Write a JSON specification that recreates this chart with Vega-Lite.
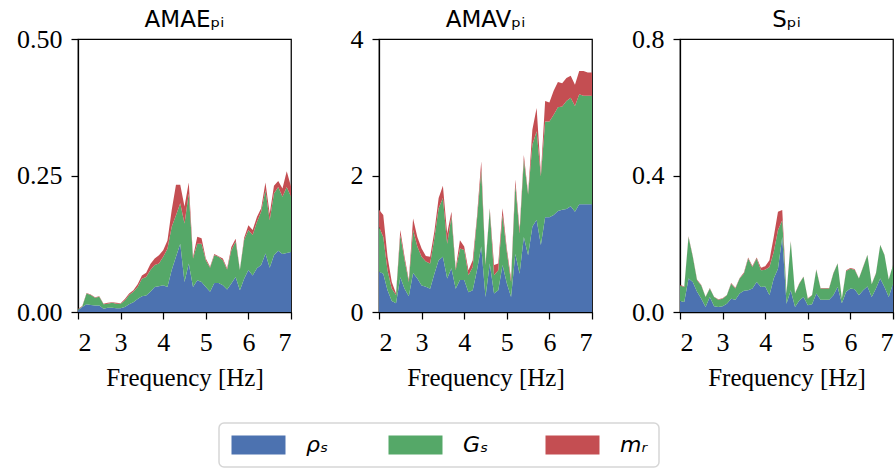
{
  "$schema": "https://vega.github.io/schema/vega-lite/v6.json",
  "padding": {"left": 15, "top": 8, "right": 0, "bottom": 0},
  "background": "white",
  "datasets": {
    "d": [
      {"p":1,"f":2.0,"a":0.003,"b":0.002,"c":0.001},
      {"p":1,"f":2.1,"a":0.009,"b":0.001,"c":0.001},
      {"p":1,"f":2.2,"a":0.014,"b":0.020,"c":0.001},
      {"p":1,"f":2.3,"a":0.013,"b":0.018,"c":0.001},
      {"p":1,"f":2.4,"a":0.012,"b":0.014,"c":0.001},
      {"p":1,"f":2.5,"a":0.012,"b":0.016,"c":0.001},
      {"p":1,"f":2.6,"a":0.006,"b":0.008,"c":0.001},
      {"p":1,"f":2.7,"a":0.008,"b":0.007,"c":0.002},
      {"p":1,"f":2.8,"a":0.008,"b":0.009,"c":0.001},
      {"p":1,"f":2.9,"a":0.007,"b":0.008,"c":0.002},
      {"p":1,"f":3.0,"a":0.007,"b":0.008,"c":0.001},
      {"p":1,"f":3.1,"a":0.009,"b":0.012,"c":0.003},
      {"p":1,"f":3.2,"a":0.014,"b":0.017,"c":0.003},
      {"p":1,"f":3.3,"a":0.018,"b":0.019,"c":0.003},
      {"p":1,"f":3.4,"a":0.024,"b":0.022,"c":0.005},
      {"p":1,"f":3.5,"a":0.029,"b":0.032,"c":0.006},
      {"p":1,"f":3.6,"a":0.030,"b":0.034,"c":0.008},
      {"p":1,"f":3.7,"a":0.037,"b":0.040,"c":0.011},
      {"p":1,"f":3.8,"a":0.046,"b":0.040,"c":0.012},
      {"p":1,"f":3.9,"a":0.047,"b":0.042,"c":0.015},
      {"p":1,"f":4.0,"a":0.049,"b":0.052,"c":0.012},
      {"p":1,"f":4.1,"a":0.046,"b":0.070,"c":0.015},
      {"p":1,"f":4.2,"a":0.077,"b":0.079,"c":0.031},
      {"p":1,"f":4.3,"a":0.101,"b":0.076,"c":0.056},
      {"p":1,"f":4.4,"a":0.125,"b":0.074,"c":0.034},
      {"p":1,"f":4.5,"a":0.055,"b":0.107,"c":0.031},
      {"p":1,"f":4.6,"a":0.089,"b":0.128,"c":0.020},
      {"p":1,"f":4.7,"a":0.046,"b":0.052,"c":0.003},
      {"p":1,"f":4.8,"a":0.058,"b":0.067,"c":0.013},
      {"p":1,"f":4.9,"a":0.055,"b":0.070,"c":0.010},
      {"p":1,"f":5.0,"a":0.046,"b":0.049,"c":0.003},
      {"p":1,"f":5.1,"a":0.037,"b":0.044,"c":0.002},
      {"p":1,"f":5.2,"a":0.053,"b":0.051,"c":0.002},
      {"p":1,"f":5.3,"a":0.053,"b":0.048,"c":0.001},
      {"p":1,"f":5.4,"a":0.049,"b":0.046,"c":0.003},
      {"p":1,"f":5.5,"a":0.041,"b":0.037,"c":0.002},
      {"p":1,"f":5.6,"a":0.052,"b":0.061,"c":0.006},
      {"p":1,"f":5.7,"a":0.064,"b":0.065,"c":0.005},
      {"p":1,"f":5.8,"a":0.040,"b":0.037,"c":0.001},
      {"p":1,"f":5.9,"a":0.061,"b":0.071,"c":0.004},
      {"p":1,"f":6.0,"a":0.077,"b":0.073,"c":0.009},
      {"p":1,"f":6.1,"a":0.067,"b":0.074,"c":0.009},
      {"p":1,"f":6.2,"a":0.080,"b":0.085,"c":0.009},
      {"p":1,"f":6.3,"a":0.086,"b":0.098,"c":0.006},
      {"p":1,"f":6.4,"a":0.107,"b":0.116,"c":0.014},
      {"p":1,"f":6.5,"a":0.081,"b":0.087,"c":0.012},
      {"p":1,"f":6.6,"a":0.104,"b":0.113,"c":0.014},
      {"p":1,"f":6.7,"a":0.112,"b":0.117,"c":0.011},
      {"p":1,"f":6.8,"a":0.106,"b":0.105,"c":0.015},
      {"p":1,"f":6.9,"a":0.108,"b":0.121,"c":0.029},
      {"p":1,"f":7.0,"a":0.110,"b":0.101,"c":0.019},

      {"p":2,"f":2.0,"a":0.59,"b":0.66,"c":0.25},
      {"p":2,"f":2.1,"a":0.56,"b":0.54,"c":0.32},
      {"p":2,"f":2.2,"a":0.32,"b":0.29,"c":0.20},
      {"p":2,"f":2.3,"a":0.16,"b":0.18,"c":0.10},
      {"p":2,"f":2.4,"a":0.13,"b":0.12,"c":0.02},
      {"p":2,"f":2.5,"a":0.51,"b":0.62,"c":0.07},
      {"p":2,"f":2.6,"a":0.34,"b":0.42,"c":0.05},
      {"p":2,"f":2.7,"a":0.23,"b":0.21,"c":0.03},
      {"p":2,"f":2.8,"a":0.57,"b":0.63,"c":0.17},
      {"p":2,"f":2.9,"a":0.49,"b":0.47,"c":0.14},
      {"p":2,"f":3.0,"a":0.39,"b":0.42,"c":0.12},
      {"p":2,"f":3.1,"a":0.37,"b":0.37,"c":0.08},
      {"p":2,"f":3.2,"a":0.34,"b":0.37,"c":0.10},
      {"p":2,"f":3.3,"a":0.56,"b":0.52,"c":0.10},
      {"p":2,"f":3.4,"a":0.76,"b":0.76,"c":0.15},
      {"p":2,"f":3.5,"a":0.81,"b":0.86,"c":0.18},
      {"p":2,"f":3.6,"a":0.49,"b":0.51,"c":0.15},
      {"p":2,"f":3.7,"a":0.64,"b":0.76,"c":0.07},
      {"p":2,"f":3.8,"a":0.34,"b":0.27,"c":0.03},
      {"p":2,"f":3.9,"a":0.47,"b":0.46,"c":0.12},
      {"p":2,"f":4.0,"a":0.47,"b":0.44,"c":0.05},
      {"p":2,"f":4.1,"a":0.29,"b":0.25,"c":0.07},
      {"p":2,"f":4.2,"a":0.32,"b":0.34,"c":0.10},
      {"p":2,"f":4.3,"a":0.61,"b":0.74,"c":0.05},
      {"p":2,"f":4.4,"a":0.96,"b":1.12,"c":0.13},
      {"p":2,"f":4.5,"a":0.22,"b":0.47,"c":0.02},
      {"p":2,"f":4.6,"a":0.71,"b":0.79,"c":0.02},
      {"p":2,"f":4.7,"a":0.27,"b":0.27,"c":0.15},
      {"p":2,"f":4.8,"a":0.32,"b":0.29,"c":0.10},
      {"p":2,"f":4.9,"a":0.69,"b":0.73,"c":0.10},
      {"p":2,"f":5.0,"a":0.42,"b":0.46,"c":0.05},
      {"p":2,"f":5.1,"a":0.22,"b":0.22,"c":0.05},
      {"p":2,"f":5.2,"a":0.85,"b":1.01,"c":0.08},
      {"p":2,"f":5.3,"a":0.56,"b":0.59,"c":0.05},
      {"p":2,"f":5.4,"a":1.10,"b":1.13,"c":0.07},
      {"p":2,"f":5.5,"a":0.83,"b":0.89,"c":0.02},
      {"p":2,"f":5.6,"a":1.25,"b":1.20,"c":0.22},
      {"p":2,"f":5.7,"a":1.35,"b":1.30,"c":0.34},
      {"p":2,"f":5.8,"a":0.98,"b":1.01,"c":0.04},
      {"p":2,"f":5.9,"a":1.39,"b":1.40,"c":0.30},
      {"p":2,"f":6.0,"a":1.39,"b":1.40,"c":0.28},
      {"p":2,"f":6.1,"a":1.42,"b":1.47,"c":0.35},
      {"p":2,"f":6.2,"a":1.48,"b":1.52,"c":0.37},
      {"p":2,"f":6.3,"a":1.50,"b":1.51,"c":0.34},
      {"p":2,"f":6.4,"a":1.51,"b":1.58,"c":0.34},
      {"p":2,"f":6.5,"a":1.55,"b":1.59,"c":0.32},
      {"p":2,"f":6.6,"a":1.47,"b":1.55,"c":0.31},
      {"p":2,"f":6.7,"a":1.58,"b":1.61,"c":0.34},
      {"p":2,"f":6.8,"a":1.58,"b":1.59,"c":0.36},
      {"p":2,"f":6.9,"a":1.58,"b":1.59,"c":0.34},
      {"p":2,"f":7.0,"a":1.58,"b":1.59,"c":0.34},

      {"p":3,"f":2.0,"a":0.032,"b":0.046,"c":0.002},
      {"p":3,"f":2.1,"a":0.029,"b":0.044,"c":0.002},
      {"p":3,"f":2.2,"a":0.098,"b":0.122,"c":0.002},
      {"p":3,"f":2.3,"a":0.088,"b":0.074,"c":0.002},
      {"p":3,"f":2.4,"a":0.059,"b":0.034,"c":0.002},
      {"p":3,"f":2.5,"a":0.039,"b":0.039,"c":0.001},
      {"p":3,"f":2.6,"a":0.015,"b":0.029,"c":0.001},
      {"p":3,"f":2.7,"a":0.044,"b":0.025,"c":0.001},
      {"p":3,"f":2.8,"a":0.017,"b":0.027,"c":0.001},
      {"p":3,"f":2.9,"a":0.015,"b":0.021,"c":0.001},
      {"p":3,"f":3.0,"a":0.017,"b":0.022,"c":0.001},
      {"p":3,"f":3.1,"a":0.024,"b":0.025,"c":0.001},
      {"p":3,"f":3.2,"a":0.039,"b":0.044,"c":0.002},
      {"p":3,"f":3.3,"a":0.036,"b":0.033,"c":0.002},
      {"p":3,"f":3.4,"a":0.054,"b":0.044,"c":0.002},
      {"p":3,"f":3.5,"a":0.062,"b":0.051,"c":0.003},
      {"p":3,"f":3.6,"a":0.064,"b":0.093,"c":0.003},
      {"p":3,"f":3.7,"a":0.069,"b":0.063,"c":0.003},
      {"p":3,"f":3.8,"a":0.088,"b":0.069,"c":0.003},
      {"p":3,"f":3.9,"a":0.073,"b":0.049,"c":0.008},
      {"p":3,"f":4.0,"a":0.075,"b":0.049,"c":0.010},
      {"p":3,"f":4.1,"a":0.049,"b":0.083,"c":0.020},
      {"p":3,"f":4.2,"a":0.098,"b":0.078,"c":0.044},
      {"p":3,"f":4.3,"a":0.127,"b":0.113,"c":0.054},
      {"p":3,"f":4.4,"a":0.220,"b":0.049,"c":0.030},
      {"p":3,"f":4.5,"a":0.024,"b":0.030,"c":0.002},
      {"p":3,"f":4.6,"a":0.064,"b":0.142,"c":0.002},
      {"p":3,"f":4.7,"a":0.015,"b":0.039,"c":0.001},
      {"p":3,"f":4.8,"a":0.034,"b":0.049,"c":0.001},
      {"p":3,"f":4.9,"a":0.044,"b":0.059,"c":0.001},
      {"p":3,"f":5.0,"a":0.020,"b":0.019,"c":0.001},
      {"p":3,"f":5.1,"a":0.023,"b":0.026,"c":0.001},
      {"p":3,"f":5.2,"a":0.054,"b":0.070,"c":0.001},
      {"p":3,"f":5.3,"a":0.036,"b":0.033,"c":0.001},
      {"p":3,"f":5.4,"a":0.036,"b":0.033,"c":0.001},
      {"p":3,"f":5.5,"a":0.036,"b":0.033,"c":0.001},
      {"p":3,"f":5.6,"a":0.049,"b":0.064,"c":0.001},
      {"p":3,"f":5.7,"a":0.073,"b":0.069,"c":0.001},
      {"p":3,"f":5.8,"a":0.026,"b":0.013,"c":0.001},
      {"p":3,"f":5.9,"a":0.059,"b":0.061,"c":0.002},
      {"p":3,"f":6.0,"a":0.069,"b":0.058,"c":0.002},
      {"p":3,"f":6.1,"a":0.067,"b":0.057,"c":0.002},
      {"p":3,"f":6.2,"a":0.049,"b":0.049,"c":0.001},
      {"p":3,"f":6.3,"a":0.064,"b":0.068,"c":0.001},
      {"p":3,"f":6.4,"a":0.075,"b":0.092,"c":0.001},
      {"p":3,"f":6.5,"a":0.044,"b":0.037,"c":0.001},
      {"p":3,"f":6.6,"a":0.069,"b":0.044,"c":0.001},
      {"p":3,"f":6.7,"a":0.098,"b":0.098,"c":0.001},
      {"p":3,"f":6.8,"a":0.073,"b":0.094,"c":0.001},
      {"p":3,"f":6.9,"a":0.044,"b":0.051,"c":0.001},
      {"p":3,"f":7.0,"a":0.083,"b":0.054,"c":0.001}
    ]
  },
  "data": {"name": "d"},
  "transform": [{"fold": ["a", "b", "c"], "as": ["k", "v"]}],
  "spacing": 88,
  "bounds": "flush",
  "hconcat": [
    {
      "width": 213, "height": 273,
      "title": "AMAEₚᵢ",
      "transform": [{"filter": "datum.p == 1"}],
      "mark": {"type": "area", "interpolate": "linear"},
      "encoding": {
        "x": {"field": "f", "type": "quantitative", "scale": {"domain": [2, 7], "nice": false}, "axis": {"values": [2,3,4,5,6,7], "title": "Frequency [Hz]", "format": "d"}},
        "y": {"field": "v", "type": "quantitative", "stack": "zero", "scale": {"domain": [0, 0.5], "nice": false}, "axis": {"values": [0, 0.25, 0.5], "format": ".2f", "title": null}},
        "color": {"field": "k", "type": "nominal", "scale": {"domain": ["a","b","c"], "range": ["#4c72b0", "#55a868", "#c44e52"]}, "legend": {"title": null, "labelExpr": "datum.label == 'a' ? 'ρₛ' : datum.label == 'b' ? 'Gₛ' : 'mᵣ'"}},
        "order": {"field": "k", "sort": "ascending"}
      }
    },
    {
      "width": 213, "height": 273,
      "title": "AMAVₚᵢ",
      "transform": [{"filter": "datum.p == 2"}],
      "mark": {"type": "area", "interpolate": "linear"},
      "encoding": {
        "x": {"field": "f", "type": "quantitative", "scale": {"domain": [2, 7], "nice": false}, "axis": {"values": [2,3,4,5,6,7], "title": "Frequency [Hz]", "format": "d"}},
        "y": {"field": "v", "type": "quantitative", "stack": "zero", "scale": {"domain": [0, 4], "nice": false}, "axis": {"values": [0, 2, 4], "format": "d", "title": null}},
        "color": {"field": "k", "type": "nominal", "scale": {"domain": ["a","b","c"], "range": ["#4c72b0", "#55a868", "#c44e52"]}, "legend": {"title": null, "labelExpr": "datum.label == 'a' ? 'ρₛ' : datum.label == 'b' ? 'Gₛ' : 'mᵣ'"}},
        "order": {"field": "k", "sort": "ascending"}
      }
    },
    {
      "width": 213, "height": 273,
      "title": "Sₚᵢ",
      "transform": [{"filter": "datum.p == 3"}],
      "mark": {"type": "area", "interpolate": "linear"},
      "encoding": {
        "x": {"field": "f", "type": "quantitative", "scale": {"domain": [2, 7], "nice": false}, "axis": {"values": [2,3,4,5,6,7], "title": "Frequency [Hz]", "format": "d"}},
        "y": {"field": "v", "type": "quantitative", "stack": "zero", "scale": {"domain": [0, 0.8], "nice": false}, "axis": {"values": [0, 0.4, 0.8], "format": ".1f", "title": null}},
        "color": {"field": "k", "type": "nominal", "scale": {"domain": ["a","b","c"], "range": ["#4c72b0", "#55a868", "#c44e52"]}, "legend": {"title": null, "labelExpr": "datum.label == 'a' ? 'ρₛ' : datum.label == 'b' ? 'Gₛ' : 'mᵣ'"}},
        "order": {"field": "k", "sort": "ascending"}
      }
    }
  ],
  "config": {
    "view": {"stroke": "black", "strokeWidth": 1.25},
    "axis": {
      "grid": false,
      "domainColor": "black", "domainWidth": 1.25,
      "tickColor": "black", "tickWidth": 1.25, "tickSize": 7,
      "labelFont": "Liberation Serif", "labelFontSize": 26, "labelColor": "black",
      "titleFont": "Liberation Serif", "titleFontSize": 25, "titleFontWeight": "normal", "titleColor": "black", "titlePadding": 10
    },
    "axisX": {"labelPadding": 10},
    "axisY": {"labelPadding": 9},
    "title": {"font": "DejaVu Sans", "fontSize": 23, "fontWeight": "normal", "color": "black", "baseline": "alphabetic", "offset": -6},
    "legend": {
      "orient": "none", "legendX": 141, "legendY": 384,
      "direction": "horizontal", "columns": 3, "gridAlign": "all",
      "symbolType": "M-1,-1H4.684V1H-1Z", "symbolSize": 361, "symbolStrokeWidth": 0, "symbolOpacity": 1,
      "labelFont": "DejaVu Sans", "labelFontStyle": "italic", "labelFontSize": 22, "labelColor": "black", "labelOffset": 54,
      "columnPadding": 53, "padding": 11, "strokeColor": "#d6d6d6", "strokeWidth": 1.5, "fillColor": "white", "cornerRadius": 5
    }
  }
}
